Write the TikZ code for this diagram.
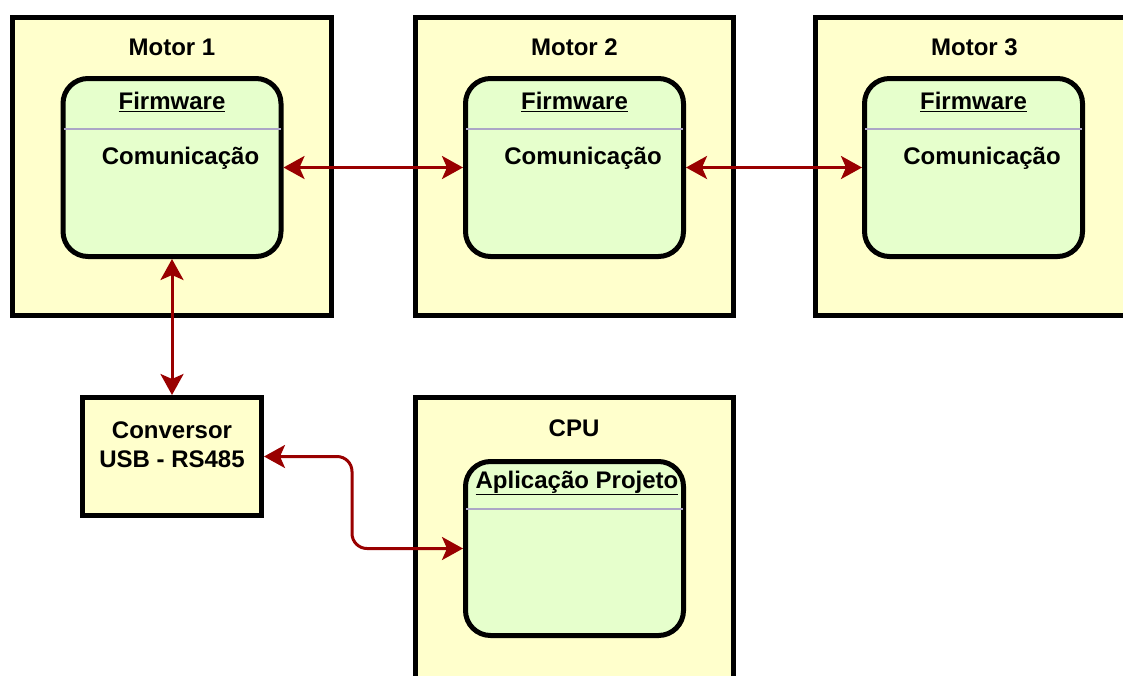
\documentclass[tikz,border=0pt]{standalone}
\usepackage{fontspec}
\setmainfont{Liberation Sans}
\usetikzlibrary{arrows.meta,calc}
\definecolor{boxfill}{HTML}{FFFFCC}
\definecolor{statefill}{HTML}{E6FFCC}
\definecolor{linkred}{HTML}{990000}
\definecolor{seprule}{HTML}{ABA6C6}
\tikzset{
  lbl/.style={font=\fontsize{24}{29}\selectfont\bfseries, inner sep=0pt, align=center},
  block/.style={draw=black, line width=5pt, fill=boxfill, inner sep=0pt},
  state/.style={draw=black, line width=5pt, fill=statefill, rounded corners=25pt,
    inner sep=0pt, minimum width=218pt},
  sepline/.style={draw=seprule, line width=1.5pt},
  link/.style={draw=linkred, line width=3pt,
    {Stealth[length=21pt,width=23pt,inset=5pt]}-{Stealth[length=21pt,width=23pt,inset=5pt]}}
}
\begin{document}
\begin{tikzpicture}[x=1pt,y=-1pt]
\useasboundingbox (0,0) rectangle (1123,675);
\clip (0,0) rectangle (1123,675);

% outer containers
\node[block, minimum width=319pt, minimum height=298pt] (motor1) at (172,166.5) {};
\node[block, minimum width=318pt, minimum height=298pt] (motor2) at (574.5,166.5) {};
\node[block, minimum width=319pt, minimum height=298pt] (motor3) at (974.5,166.5) {};
\node[block, minimum width=318pt, minimum height=298pt] (cpu) at (574.5,546.5) {};
\node[block, minimum width=179pt, minimum height=118pt] (conv) at (172,456.5) {};

% container titles
\node[lbl] (t1) at (172,47) {Motor 1};
\node[lbl] (t2) at (574.5,47) {Motor 2};
\node[lbl] (t3) at (974.5,47) {Motor 3};
\node[lbl] (tcpu) at (574,428) {CPU};
\node[lbl] (tconv) at (172,444.5) {Conversor\\USB - RS485};

% firmware states
\foreach \i/\cx in {1/172, 2/574.5, 3/973.5}{
  \node[state, minimum height=178pt] (fw\i) at (\cx,167.5) {};
  \draw[sepline] ($(fw\i.north west)+(3,53)$) -- ($(fw\i.north east)+(-3,53)$);
  \node[lbl] (fwh\i) at (\cx,102) {\underline{Firmware}};
  \node[lbl] (fwc\i) at (\cx+8.5,158) {Comunicação};
}

% application state
\node[state, minimum height=174pt] (app) at (574.5,548.5) {};
\draw[sepline] ($(app.north west)+(3,50)$) -- ($(app.north east)+(-3,50)$);
\node[lbl] (apph) at (577,483) {\underline{Aplicação Projeto}};

% links
\coordinate (bend) at (352,0);
\draw[link] (fw1.east) -- (fw2.west);
\draw[link] (fw2.east) -- (fw3.west);
\draw[link] (fw1.south) -- (conv.north);
\draw[link, rounded corners=15pt] (conv.east) -- (conv.east -| bend) |- (app.west);
\end{tikzpicture}
\end{document}
